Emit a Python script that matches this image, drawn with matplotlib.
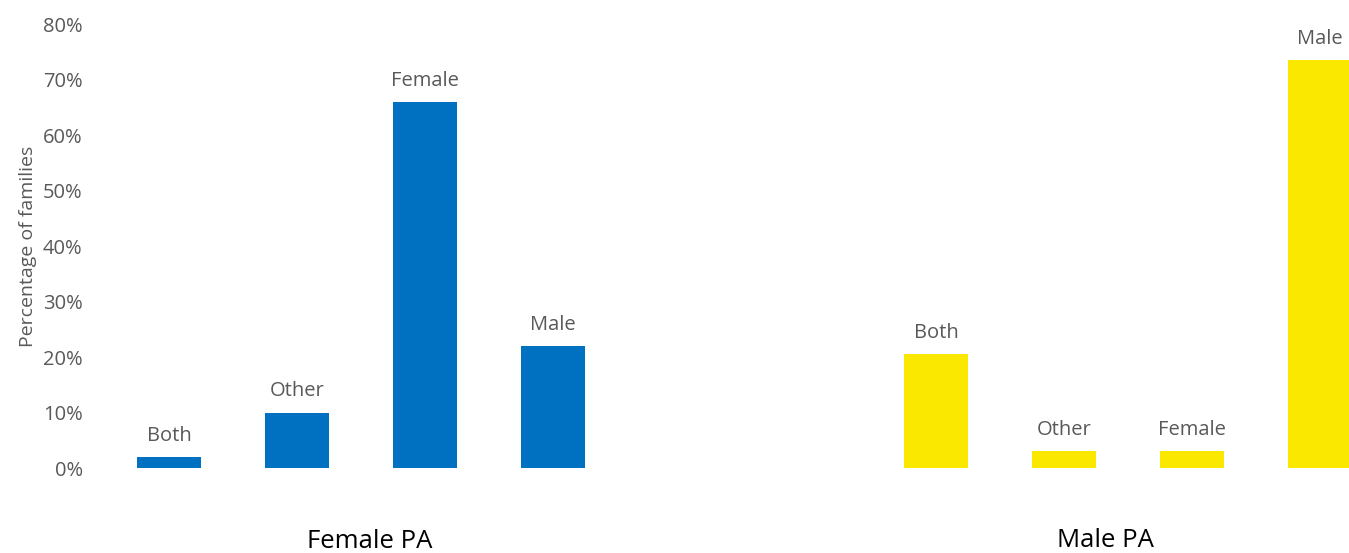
import matplotlib.pyplot as plt
from matplotlib.ticker import MultipleLocator, FuncFormatter

# values (percentage of families)
categories = ["Both", "Other", "Female", "Male"]
groups = ["Female PA", "Male PA"]
female_pa = [2, 10, 66, 22]
male_pa = [20.5, 3, 3, 73.5]

blue = '#0070C0'
yellow = '#FAE800'
grey = '#595959'

plt.rcParams['font.family'] = ['Open Sans', 'DejaVu Sans']

fig = plt.figure(figsize=(13.49, 5.53), dpi=100)
ax = fig.add_axes([0.0778, 0.1537, 1 - 0.0778, 0.9566 - 0.1537])

x_f = [0, 1, 2, 3]
x_m = [6, 7, 8, 9]
ax.bar(x_f, female_pa, width=0.5, color=blue)
ax.bar(x_m, male_pa, width=0.5, color=yellow)

for xs, vals in ((x_f, female_pa), (x_m, male_pa)):
    for x, v, c in zip(xs, vals, categories):
        ax.annotate(c, (x, v), xytext=(0, 8), textcoords='offset points',
                    ha='center', va='bottom', fontsize=14.5, color=grey)

ax.set_xlim(-0.5, 9.227)
ax.set_ylim(0, 80)
ax.yaxis.set_major_locator(MultipleLocator(10))
ax.yaxis.set_major_formatter(FuncFormatter(lambda v, p: '%d%%' % v))
ax.tick_params(axis='y', length=0, labelsize=14.5, labelcolor=grey, pad=16)
ax.set_xticks([])
for s in ax.spines.values():
    s.set_visible(False)

ax.set_ylabel('Percentage of families', fontsize=14, color=grey, labelpad=4)

# group labels under each cluster
ax.text(1.57, -13.2, groups[0], ha='center', va='center', fontsize=18.5, color='black')
ax.text(7.32, -13.0, groups[1], ha='center', va='center', fontsize=18.5, color='black')

plt.savefig('out.png', dpi=100)
